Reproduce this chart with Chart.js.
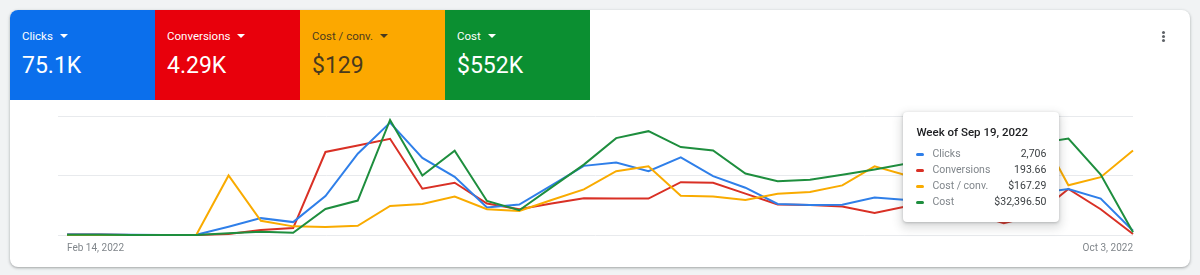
<!DOCTYPE html>
<html>
<head>
<meta charset="utf-8">
<script src="https://cdn.jsdelivr.net/npm/chart.js@4.4.1/dist/chart.umd.min.js"></script>
<style>
  html, body { margin: 0; padding: 0; }
  body {
    width: 1200px; height: 275px; position: relative; overflow: hidden;
    background: #f1f3f4; font-family: Roboto, "Noto Sans", sans-serif;
  }
  .card {
    position: absolute; left: 10px; top: 10px; width: 1180px; height: 257px;
    background: #fff; border-radius: 8px; overflow: hidden;
    box-shadow: 0 1px 2px rgba(60,64,67,.3), 0 1px 3px 1px rgba(60,64,67,.12);
  }
  .tiles { position: absolute; left: 0; top: 0; display: flex; }
  .tile { width: 145px; height: 90px; box-sizing: border-box; padding-left: 12px; color: #fff; }
  .tile.dark { color: rgba(32,33,36,.82); }
  .tile .name { margin-top: 19px; font-size: 11.5px; line-height: 14px; }
  .tile .caret {
    display: inline-block; width: 0; height: 0; margin-left: 7px; vertical-align: 2px;
    border-left: 4px solid transparent; border-right: 4px solid transparent; border-top: 4px solid currentColor;
  }
  .tile .val { margin-top: 10px; font-size: 23px; line-height: 26px; }
  .menu { position: absolute; left: 1152px; top: 21px; width: 4px; }
  .menu i { display: block; width: 3px; height: 3px; border-radius: 50%; background: #5f6368; margin-bottom: 1.2px; }
  #chart { position: absolute; left: 0; top: 100px; }
  #tip {
    position: absolute; display: none; width: 156px; height: 110px; box-sizing: border-box;
    padding: 13px 13px 0 13px; background: #fff; border-radius: 4px;
    box-shadow: 0 1px 3px rgba(60,64,67,.3), 0 4px 8px 3px rgba(60,64,67,.15);
  }
  #tip .tt { font-size: 11.5px; font-weight: 500; line-height: 14px; color: #202124; margin-bottom: 7px; }
  #tip .row { display: flex; align-items: center; font-size: 10.5px; line-height: 16px; }
  #tip .mk { width: 8px; height: 3px; border-radius: 2px; margin-right: 8px; }
  #tip .lb { color: #80868b; flex: 1; }
  #tip .vl { color: #3c4043; }
</style>
</head>
<body>
<div class="card">
  <div class="tiles" id="tiles"></div>
  <div class="menu"><i></i><i></i><i></i></div>
</div>
<canvas id="chart" width="1200" height="167"></canvas>
<div id="tip"></div>
<script>
const weeks = [
  "Feb 14, 2022", "Feb 21, 2022", "Feb 28, 2022", "Mar 7, 2022", "Mar 14, 2022", "Mar 21, 2022",
  "Mar 28, 2022", "Apr 4, 2022", "Apr 11, 2022", "Apr 18, 2022", "Apr 25, 2022", "May 2, 2022",
  "May 9, 2022", "May 16, 2022", "May 23, 2022", "May 30, 2022", "Jun 6, 2022", "Jun 13, 2022",
  "Jun 20, 2022", "Jun 27, 2022", "Jul 4, 2022", "Jul 11, 2022", "Jul 18, 2022", "Jul 25, 2022",
  "Aug 1, 2022", "Aug 8, 2022", "Aug 15, 2022", "Aug 22, 2022", "Aug 29, 2022", "Sep 5, 2022",
  "Sep 12, 2022", "Sep 19, 2022", "Sep 26, 2022", "Oct 3, 2022"
];

const clicks = [35, 28, 8, 4, 12, 484, 992, 758, 2292, 4783, 6609, 4532, 3424, 1616, 1791, 2917, 4066,
  4258, 3751, 4567, 3459, 2782, 1826, 1767, 1780, 2199, 2059, 1604, 1620, 1633, 2450, 2706, 2141, 251];

const conversions = [2, 2, 0, 0, 0, 4, 21, 29, 348.8, 376.3, 404.2, 194.6, 219.6, 132.1, 108.3, 132.1, 154.2,
  152.9, 152.9, 222.1, 219.6, 173.8, 127.9, 126.3, 119.6, 92.9, 120.8, 100, 91.7, 50, 83.3, 193.66, 108.3, 4.2];

const costPerConv = [0, 0, 0, 0, 0, 200, 47.7, 29, 26.7, 31, 97.7, 104.3, 129, 86.7, 81, 117.7, 153.3,
  214.3, 231, 132.3, 129, 117.7, 139, 144.3, 166.7, 231, 200, 206.7, 189, 226.7, 367, 167.29, 194.3, 284.3];

const cost = [120, 110, 30, 10, 40, 567, 1100, 767, 8767, 11567, 38667, 20000, 28333, 11433, 8333, 16000, 23667,
  32567, 34900, 29567, 28433, 20667, 18100, 18567, 20233, 22000, 24000, 20667, 17333, 11333, 30667, 32396.5, 20333, 900];

const metricNames = ["Clicks", "Conversions", "Cost / conv.", "Cost"];
const metricTotals = ["75.1K", "4.29K", "$129", "$552K"];
const axisMax = [7000, 500, 400, 40000];
const hoverIndex = 31;

const tileColors = ["#0b6fec", "#e8000c", "#fca800", "#0b8f31"];
const lineColors = ["#2f7fe9", "#d93025", "#f9ab00", "#1e8e3e"];

const money = (v) => "$" + v.toLocaleString("en-US", { minimumFractionDigits: 2, maximumFractionDigits: 2 });
const formatters = [
  (v) => v.toLocaleString("en-US"),
  (v) => v.toFixed(2),
  money,
  money
];

// metric tiles
const tilesEl = document.getElementById("tiles");
metricNames.forEach((name, i) => {
  const t = document.createElement("div");
  t.className = "tile" + (i === 2 ? " dark" : "");
  t.style.background = tileColors[i];
  t.innerHTML = `<div class="name">${name}<span class="caret"></span></div><div class="val">${metricTotals[i]}</div>`;
  tilesEl.appendChild(t);
});

function renderTip(context) {
  const { chart, tooltip } = context;
  const el = document.getElementById("tip");
  if (!tooltip.dataPoints || !tooltip.dataPoints.length) {
    el.style.display = "none";
    return;
  }
  const idx = tooltip.dataPoints[0].dataIndex;
  let html = `<div class="tt">Week of ${weeks[idx]}</div>`;
  tooltip.dataPoints.forEach((p) => {
    const i = p.datasetIndex;
    html += `<div class="row"><span class="mk" style="background:${lineColors[i]}"></span>` +
      `<span class="lb">${p.dataset.label}</span><span class="vl">${formatters[i](p.parsed.y)}</span></div>`;
  });
  el.innerHTML = html;
  el.style.left = (chart.canvas.offsetLeft + tooltip.caretX - 165) + "px";
  el.style.top = (chart.canvas.offsetTop + chart.chartArea.top - 4) + "px";
  el.style.display = "block";
}

Chart.defaults.font.family = "Roboto";

const seriesData = [clicks, conversions, costPerConv, cost];
const axisIds = ["y", "yConv", "yCpc", "yCost"];
const drawOrder = [2, 3, 1, 0];

const datasets = seriesData.map((arr, i) => ({
  label: metricNames[i],
  data: arr.map((v, x) => ({ x, y: v })),
  borderColor: lineColors[i],
  backgroundColor: lineColors[i],
  borderWidth: 2,
  tension: 0,
  pointRadius: 0,
  pointHoverRadius: 0,
  fill: false,
  clip: false,
  order: drawOrder[i],
  yAxisID: axisIds[i]
}));

const hiddenAxis = (max) => ({ display: false, min: 0, max });

const chart = new Chart(document.getElementById("chart").getContext("2d"), {
  type: "line",
  data: { datasets },
  options: {
    responsive: false,
    animation: false,
    events: [],
    layout: { padding: { left: 58, right: 67, top: 16, bottom: 6 } },
    plugins: {
      legend: { display: false },
      tooltip: { enabled: false, external: renderTip }
    },
    scales: {
      x: {
        type: "linear",
        min: -0.28,
        max: weeks.length - 1,
        grid: { display: false, drawTicks: false },
        border: { display: false },
        afterBuildTicks: (scale) => {
          scale.ticks = [{ value: 0 }, { value: weeks.length - 1 }];
        },
        ticks: {
          align: "inner",
          maxRotation: 0,
          autoSkip: false,
          padding: 7,
          color: "#80868b",
          font: { size: 10 },
          callback: (v) => weeks[v]
        }
      },
      y: {
        min: 0,
        max: axisMax[0],
        ticks: { display: false, stepSize: axisMax[0] / 2 },
        grid: { color: "#e8eaed", drawTicks: false },
        border: { display: false }
      },
      yConv: hiddenAxis(axisMax[1]),
      yCpc: hiddenAxis(axisMax[2]),
      yCost: hiddenAxis(axisMax[3])
    }
  }
});

chart.tooltip.setActiveElements(
  datasets.map((d, i) => ({ datasetIndex: i, index: hoverIndex })),
  { x: 0, y: 0 }
);
</script>
</body>
</html>
